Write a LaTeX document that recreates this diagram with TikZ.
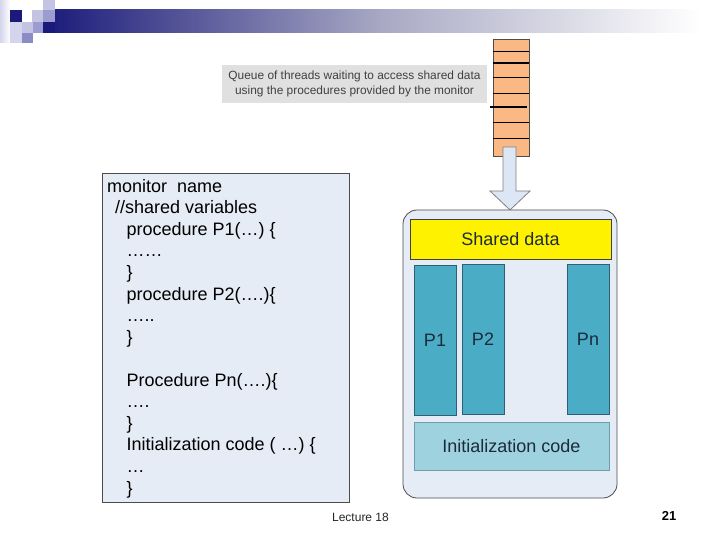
\documentclass[tikz,border=0pt]{standalone}
\usepackage{fontspec}
\setmainfont{Liberation Sans}
\usetikzlibrary{calc}
\definecolor{navy}{HTML}{1A1A7A}
\definecolor{midbar}{HTML}{A8A8C4}
\definecolor{sqpale}{HTML}{D4D4EC}
\definecolor{sqlight}{HTML}{C4C4E2}
\definecolor{sqmid}{HTML}{9C9CD0}
\definecolor{sqdark}{HTML}{8C8CC4}
\definecolor{boxfill}{HTML}{E6ECF6}
\definecolor{queuefill}{HTML}{F9B884}
\definecolor{labelgray}{HTML}{E0E0E0}
\definecolor{procfill}{HTML}{4BACC6}
\definecolor{procedge}{HTML}{2F5F70}
\definecolor{initfill}{HTML}{9FD2DF}
\definecolor{initedge}{HTML}{6F9FAD}
\definecolor{darktext}{HTML}{1B2B3B}
\definecolor{arrowfill}{HTML}{DDE6F4}
\tikzset{
  procbox/.style={draw=procedge, fill=procfill, line width=0.8pt, minimum width=42pt, minimum height=150pt, inner sep=0pt, text=darktext, font=\fontsize{18}{20}\selectfont},
  qline/.style={draw=black, line width=0.8pt},
  qthick/.style={draw=black, line width=1.6pt},
}
\begin{document}
\begin{tikzpicture}[x=1pt,y=-1pt]
\useasboundingbox (0,0) rectangle (720,540);
\fill[white] (0,0) rectangle (720,540);
% header decoration
\shade[left color=sqpale, right color=white] (0,0) rectangle (10,43);
\shade[left color=navy, right color=midbar] (43,10) rectangle (381,33);
\shade[left color=midbar, right color=white] (380,10) rectangle (700,33);
\fill[sqpale] (10,22) rectangle (22,43);
\fill[navy] (10,10) rectangle (22,22);
\fill[sqlight] (32,10) rectangle (43,22);
\fill[sqlight] (43,0) rectangle (55,10);
\fill[sqmid] (43,10) rectangle (55,22);
\fill[navy] (43,22) rectangle (55,33);
\fill[sqlight] (22,22) rectangle (33,33);
\fill[sqmid] (33,22) rectangle (43,33);
\fill[sqdark] (22,33) rectangle (33,43);

% queue label
\node[fill=labelgray, minimum width=265pt, minimum height=38pt, inner sep=0pt,
  align=center, text=black!75, font=\fontsize{11.9}{14.5}\selectfont] (qlabel) at (354.5,84)
  {Queue of threads waiting to access shared data\\using the procedures provided by the monitor};

% queue
\node[draw=black!70, fill=queuefill, minimum width=36pt, minimum height=117pt, inner sep=0pt, line width=0.8pt] (queue) at (511,97.5) {};
\foreach \yy in {51,77,93,122,138} {\draw[qline] (493,\yy) -- (529,\yy);}
\draw[qthick] (493,63) -- (529,63);
\draw[qthick] (490,107) -- (527,107);

% arrow
\draw[draw=black!50, fill=arrowfill, line width=0.8pt]
  (503,147) -- (516,147) -- (516,191) -- (530,191) -- (510,210) -- (490,191) -- (503,191) -- cycle;

% code box
\node[draw=black!70, fill=boxfill, line width=1pt, minimum width=247pt, minimum height=328pt, inner sep=0pt] (code) at (225.5,338) {};
\node[anchor=base west, inner sep=0pt, align=left, font=\fontsize{18}{21.55}\selectfont] (codetext) at (107,494)
{monitor\ \ name\\
\hspace*{8pt}//shared variables\\
\hspace*{19.5pt}procedure P1(…) \{\\
\hspace*{19.5pt}……\\
\hspace*{19.5pt}\}\\
\hspace*{19.5pt}procedure P2(….)\{\\
\hspace*{19.5pt}…..\\
\hspace*{19.5pt}\}\\
\mbox{}\\
\hspace*{19.5pt}Procedure Pn(….)\{\\
\hspace*{19.5pt}….\\
\hspace*{19.5pt}\}\\
\hspace*{19.5pt}Initialization code ( …) \{\\
\hspace*{19.5pt}…\\
\hspace*{19.5pt}\}};

% monitor
\node[draw=black!70, fill=boxfill, rounded corners=14pt, line width=0.8pt, minimum width=214pt, minimum height=288pt, inner sep=0pt] (monitor) at (510,354) {};
\node[draw=black!75, fill=yellow, line width=0.8pt, minimum width=201pt, minimum height=40pt, inner sep=0pt, text=darktext, font=\fontsize{18}{20}\selectfont] (shared) at (510.5,239) {Shared data};
\node[procbox] (p1) at (435,340) {P1};
\node[procbox] (p2) at (483,339) {P2};
\node[procbox] (pn) at (588,339) {Pn};
\node[draw=initedge, fill=initfill, line width=0.8pt, minimum width=195pt, minimum height=48pt, inner sep=0pt, text=darktext, font=\fontsize{18}{20}\selectfont] (init) at (511.5,446) {Initialization code};

% footer
\node[font=\fontsize{12}{14}\selectfont, text=black!85] (lecture) at (360.5,517) {Lecture 18};
\node[font=\fontsize{13}{15}\selectfont\bfseries] (pagenum) at (669,516) {21};
\end{tikzpicture}
\end{document}
